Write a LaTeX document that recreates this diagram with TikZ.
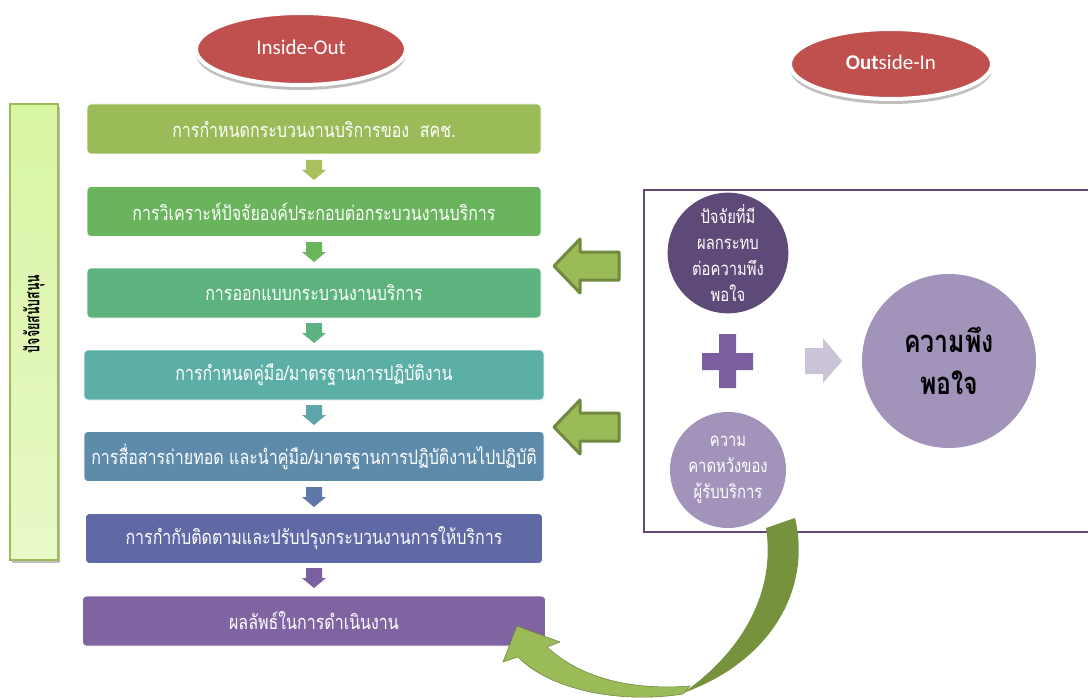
\documentclass[tikz,border=0pt]{standalone}
\usepackage{fontspec}
\setmainfont{Carlito}
\newfontfamily\thai[Script=Thai,FakeStretch=0.8]{Loma}
\newfontfamily\thainarrow[Script=Thai,FakeStretch=0.62]{Loma}
\definecolor{ovred}{HTML}{C0504D}
\definecolor{barfill}{HTML}{D8F5A2}
\definecolor{barline}{HTML}{9BBB59}
\definecolor{lgreen}{HTML}{9BBB59}
\definecolor{dgreen}{HTML}{71893F}
\definecolor{olive}{HTML}{76923C}
\definecolor{frame}{HTML}{5F497A}
\definecolor{plum}{HTML}{5E4A78}
\definecolor{lilac}{HTML}{A293BA}
\definecolor{crossc}{HTML}{7B5F9E}
\definecolor{pale}{HTML}{CBC4D8}

\begin{document}
\begin{tikzpicture}[x=1pt,y=-1pt,
  oval/.style={fill=ovred,draw=white,line width=4pt},
  shade/.style={fill=black,opacity=0.25},
  head/.style={text=white,font=\fontsize{21}{24}\selectfont},
  box/.style={rectangle,rounded corners=4pt,minimum height=50pt,draw=white,line width=0.6pt,text=white,font=\thai\fontsize{20}{22}\selectfont},
  bub/.style={circle,inner sep=0pt,minimum size=#1,text=white,align=center,font=\thai\fontsize{18.5}{26}\selectfont},
  dnarr/.pic={\fill[pic actions] (-8,-10) -- (8,-10) -- (8,0) -- (12,0) -- (0,10) -- (-12,0) -- (-8,0) -- cycle;},
  lfarr/.pic={\filldraw[fill=lgreen,draw=dgreen,line width=3pt,line join=round] (0,0) -- (26,-27) -- (26,-14) -- (65,-14) -- (65,14) -- (26,14) -- (26,27) -- cycle;}]
\useasboundingbox[fill=white] (0,0) rectangle (1088,698);

% headings
\fill[shade] (301,54) ellipse (105 and 36);
\path[oval] (301,49) ellipse (105 and 36);
\node[head] (io) at (301,47) {Inside-Out};
\fill[shade] (891,69) ellipse (101 and 35);
\path[oval] (891,64) ellipse (101 and 35);
\node[head] (oi) at (891,62) {\textbf{Out}side-In};

% support bar
\fill[shade] (12,107) rectangle (60,563);
\node[rectangle,minimum width=48pt,minimum height=456pt,top color=barfill,bottom color=barfill!60!white,draw=barline,line width=1.5pt] (bar) at (34,332) {};
\node[rotate=90,font=\thainarrow\bfseries\fontsize{20}{24}\selectfont] (bart) at (34,314) {ปัจจัยสนับสนุน};

% process boxes
\foreach \i/\w/\cy/\c/\t in %
{1/454/129/9BBB59/{การกำหนดกระบวนงานบริการของ\ \ สคช.},
 2/454/211.5/69B45D/{การวิเคราะห์ปัจจัยองค์ประกอบต่อกระบวนงานบริการ},
 3/454/293/5DB37E/{การออกแบบกระบวนงานบริการ},
 4/460/375/5CAFA6/{การกำหนดคู่มือ/มาตรฐานการปฏิบัติงาน},
 5/460/456.5/5E8BAA/{การสื่อสารถ่ายทอด และนำคู่มือ/มาตรฐานการปฏิบัติงานไปปฏิบัติ},
 6/457/538.5/6168A6/{การกำกับติดตามและปรับปรุงกระบวนงานการให้บริการ},
 7/463/621/8064A2/{ผลลัพธ์ในการดำเนินงาน}} {
  \definecolor{bc\i}{HTML}{\c}
  \node[box,fill=bc\i,minimum width=\w pt] (b\i) at (314,\cy) {\t};
}
\foreach \y/\c in %
{170/A5C25C,252/6AB55D,333/5DB381,415/5FA6AB,497/5E78A9,578/7A5FA3} {
  \definecolor{ac}{HTML}{\c}
  \pic[fill=ac] at (314,\y) {dnarr};
}

% outside-in frame
\draw[frame,line width=1.3pt] (1090,190) -- (644,190) -- (644,532) -- (1090,532);
\node[bub=116pt,fill=plum] (fac) at (728,253) {ปัจจัยที่มี\\ผลกระทบ\\ต่อความพึง\\พอใจ};
\node[bub=116pt,fill=lilac] (exp) at (728,470) {ความ\\คาดหวังของ\\ผู้รับบริการ};
\node[bub=174pt,fill=lilac,text=black,font=\thai\bfseries\fontsize{31}{42}\selectfont] (sat) at (949,361) {ความพึง\\พอใจ};
\fill[crossc] (719,334) rectangle (736,388) (702,353) rectangle (753,370);
\fill[pale] (805,348) -- (823,348) -- (823,338) -- (842,361) -- (823,383) -- (823,374) -- (805,374) -- cycle;

% feedback arrows
\pic at (554,266) {lfarr};
\pic at (554,427) {lfarr};
\fill[olive] (766,528) -- (795,518) .. controls (812,590) and (770,662) .. (683,693)
  .. controls (742,652) and (776,592) .. (766,528) -- cycle;
\filldraw[fill=lgreen,draw=dgreen,line width=0.6pt,line join=round] (517,626) -- (560,642) -- (547,647)
  .. controls (585,682) and (640,690) .. (690,686) -- (683,694)
  .. controls (620,704) and (550,690) .. (518,657) -- (503,662) -- cycle;
\end{tikzpicture}
\end{document}
